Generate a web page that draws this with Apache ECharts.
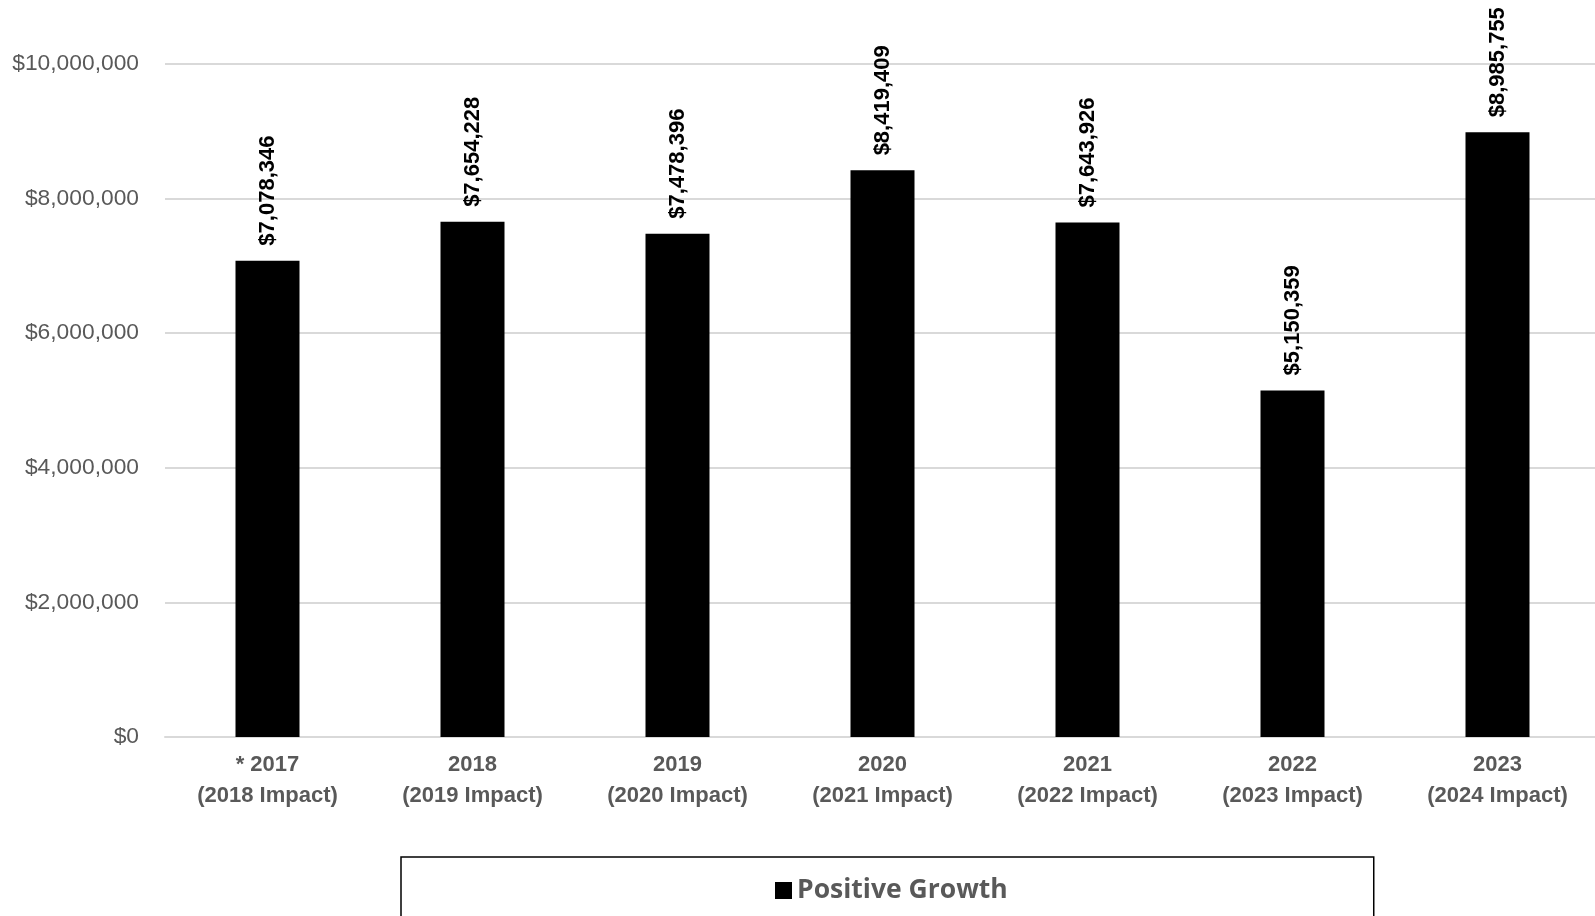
<!DOCTYPE html>
<html><head><meta charset="utf-8">
<script src="https://cdn.jsdelivr.net/npm/echarts@6/dist/echarts.min.js"></script>
<style>html,body{margin:0;padding:0;background:#fff}#c{width:1595px;height:916px}</style>
</head><body><div id="c"></div>
<script>
const categories = ['* 2017\n(2018 Impact)','2018\n(2019 Impact)','2019\n(2020 Impact)','2020\n(2021 Impact)','2021\n(2022 Impact)','2022\n(2023 Impact)','2023\n(2024 Impact)'];
const values = [7078346, 7654228, 7478396, 8419409, 7643926, 5150359, 8985755];
const seriesName = 'Positive Growth';
const yMin = 0, yMax = 10000000, yStep = 2000000;

const FONT = "'Liberation Sans',Arial,sans-serif";
const fmt = v => '$' + Math.round(v).toString().replace(/\B(?=(\d{3})+(?!\d))/g, ',');
const chart = echarts.init(document.getElementById('c'));
chart.setOption({
  animation: false,
  grid: {left: 165, top: 64, bottom: 179, width: 1435, containLabel: false, outerBoundsMode: 'none'},
  xAxis: {
    type: 'category', data: categories,
    axisLine: {lineStyle: {color: '#d9d9d9', width: 2}},
    axisTick: {show: false},
    axisLabel: {color: '#595959', fontFamily: FONT, fontWeight: 'bold', fontSize: 22, lineHeight: 31, margin: 12, interval: 0}
  },
  yAxis: {
    type: 'value', min: yMin, max: yMax, interval: yStep,
    axisLine: {show: false}, axisTick: {show: false},
    splitLine: {lineStyle: {color: '#d9d9d9', width: 2}},
    axisLabel: {color: '#595959', fontFamily: FONT, fontSize: 22.8, margin: 26, formatter: fmt}
  },
  legend: {
    data: [seriesName], left: 401, top: 857,
    padding: [20, 366, 40, 374],
    borderColor: '#000', borderWidth: 1.5,
    icon: 'rect', itemWidth: 17, itemHeight: 17, itemGap: 6,
    textStyle: {color: '#595959', fontFamily: "'Open Sans',sans-serif", fontWeight: 'bold', fontSize: 26.5}
  },
  series: [{
    name: seriesName, type: 'bar', data: values, barWidth: 64,
    itemStyle: {color: '#000'},
    label: {show: true, position: 'top', rotate: 90, align: 'left', verticalAlign: 'middle', distance: 15,
      color: '#000', fontFamily: FONT, fontWeight: 'bold', fontSize: 22, formatter: p => fmt(p.value)}
  }]
});
</script></body></html>
